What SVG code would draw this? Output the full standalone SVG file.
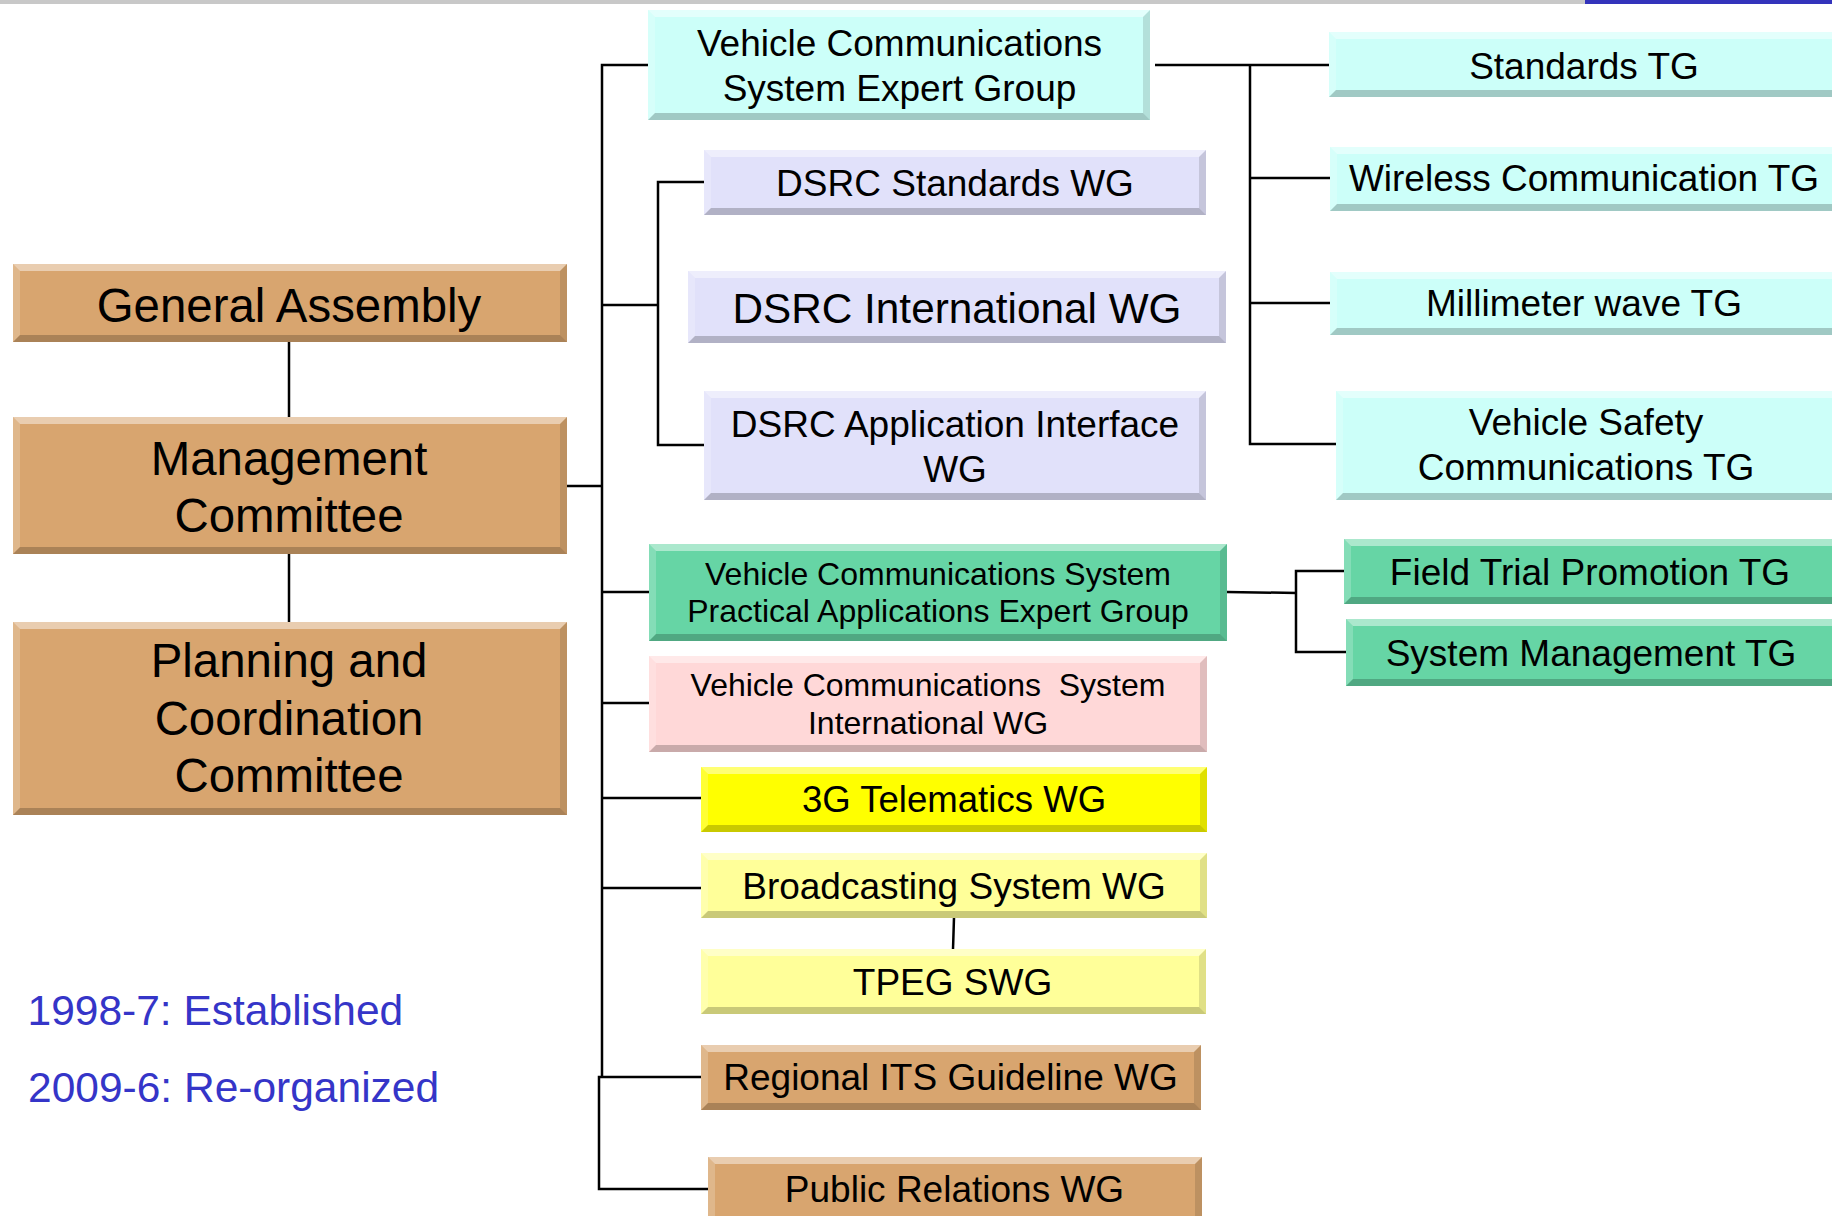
<svg xmlns="http://www.w3.org/2000/svg" width="1832" height="1216" viewBox="0 0 1832 1216">
<style>
.ln{stroke:#000;stroke-width:2.5;fill:none}
.t{font-family:"Liberation Sans",Arial,sans-serif;fill:#000;text-anchor:middle}
.note{font-family:"Liberation Sans",Arial,sans-serif;fill:#3535c8;font-size:42.5px}
.bt{fill:#fff;fill-opacity:.45}
.bl{fill:#fff;fill-opacity:.2}
.br{fill:#000;fill-opacity:.12}
.bb{fill:#000;fill-opacity:.21}
.tan{fill:#d8a56f}
.cyan{fill:#ccfff9}
.lav{fill:#e1e1fa}
.grn{fill:#66d5a5}
.pink{fill:#ffd8d8}
.yel{fill:#ffff00}
.lyel{fill:#ffff99}
</style>
<rect width="1832" height="1216" fill="#fff"/>
<rect x="0" y="0" width="1585" height="4" fill="#c8c8c8"/>
<rect x="1585" y="0" width="247" height="4" fill="#3333bb"/>

<g id="connectors">
<path class="ln" d="M289,342V417"/>
<path class="ln" d="M289,554V622"/>
<path class="ln" d="M567,486H602"/>
<path class="ln" d="M648,65H602V1077"/>
<path class="ln" d="M602,305H658"/>
<path class="ln" d="M704,182H658V445H704"/>
<path class="ln" d="M602,592H649"/>
<path class="ln" d="M602,703H649"/>
<path class="ln" d="M602,798H701"/>
<path class="ln" d="M602,888H701"/>
<path class="ln" d="M701,1077H599V1189H708"/>
<path class="ln" d="M1155,65H1329"/>
<path class="ln" d="M1250,64V444H1336"/>
<path class="ln" d="M1250,178H1330"/>
<path class="ln" d="M1250,303H1330"/>
<path class="ln" d="M1227,592L1297,593"/>
<path class="ln" d="M1344,571H1296V652H1346"/>
<path class="ln" d="M954,918L953,949"/>
</g>

<g id="general-assembly">
<g transform="translate(13,264)"><rect class="tan" width="554" height="78"/><path class="bt" d="M0,0H554l-7,7H7z"/><path class="bl" d="M0,0l7,7V71l-7,7z"/><path class="br" d="M554,0V78l-7,-7V7z"/><path class="bb" d="M0,78H554l-7,-7H7z"/></g>
<text class="t" x="289" y="322" font-size="47.4">General Assembly</text>
</g>

<g id="management-committee">
<g transform="translate(13,417)"><rect class="tan" width="554" height="137"/><path class="bt" d="M0,0H554l-7,7H7z"/><path class="bl" d="M0,0l7,7V130l-7,7z"/><path class="br" d="M554,0V137l-7,-7V7z"/><path class="bb" d="M0,137H554l-7,-7H7z"/></g>
<text class="t" font-size="47.4"><tspan x="289" y="475">Management</tspan><tspan x="289" y="532">Committee</tspan></text>
</g>

<g id="planning-coordination">
<g transform="translate(13,622)"><rect class="tan" width="554" height="193"/><path class="bt" d="M0,0H554l-7,7H7z"/><path class="bl" d="M0,0l7,7V186l-7,7z"/><path class="br" d="M554,0V193l-7,-7V7z"/><path class="bb" d="M0,193H554l-7,-7H7z"/></g>
<text class="t" font-size="47.4"><tspan x="289" y="677">Planning and</tspan><tspan x="289" y="735">Coordination</tspan><tspan x="289" y="792">Committee</tspan></text>
</g>

<g id="vcs-expert-group">
<g transform="translate(648,10)"><rect class="cyan" width="502" height="110"/><path class="bt" d="M0,0H502l-7,7H7z"/><path class="bl" d="M0,0l7,7V103l-7,7z"/><path class="br" d="M502,0V110l-7,-7V7z"/><path class="bb" d="M0,110H502l-7,-7H7z"/></g>
<text class="t" font-size="37"><tspan x="899.5" y="56">Vehicle Communications</tspan><tspan x="899.5" y="100.5">System Expert Group</tspan></text>
</g>

<g id="dsrc-standards-wg">
<g transform="translate(704,150)"><rect class="lav" width="502" height="65"/><path class="bt" d="M0,0H502l-7,7H7z"/><path class="bl" d="M0,0l7,7V58l-7,7z"/><path class="br" d="M502,0V65l-7,-7V7z"/><path class="bb" d="M0,65H502l-7,-7H7z"/></g>
<text class="t" x="955" y="195.5" font-size="37">DSRC Standards WG</text>
</g>

<g id="dsrc-international-wg">
<g transform="translate(688,271)"><rect class="lav" width="538" height="72"/><path class="bt" d="M0,0H538l-7,7H7z"/><path class="bl" d="M0,0l7,7V65l-7,7z"/><path class="br" d="M538,0V72l-7,-7V7z"/><path class="bb" d="M0,72H538l-7,-7H7z"/></g>
<text class="t" x="957" y="322.5" font-size="42.3">DSRC International WG</text>
</g>

<g id="dsrc-application-interface-wg">
<g transform="translate(704,391)"><rect class="lav" width="502" height="109"/><path class="bt" d="M0,0H502l-7,7H7z"/><path class="bl" d="M0,0l7,7V102l-7,7z"/><path class="br" d="M502,0V109l-7,-7V7z"/><path class="bb" d="M0,109H502l-7,-7H7z"/></g>
<text class="t" font-size="37"><tspan x="955" y="437">DSRC Application Interface</tspan><tspan x="955" y="482">WG</tspan></text>
</g>

<g id="standards-tg">
<g transform="translate(1329,32)"><rect class="cyan" width="520" height="65"/><path class="bt" d="M0,0H520l-7,7H7z"/><path class="bl" d="M0,0l7,7V58l-7,7z"/><path class="bb" d="M0,65H520l-7,-7H7z"/></g>
<text class="t" x="1584" y="78.5" font-size="37">Standards TG</text>
</g>

<g id="wireless-communication-tg">
<g transform="translate(1330,147)"><rect class="cyan" width="520" height="64"/><path class="bt" d="M0,0H520l-7,7H7z"/><path class="bl" d="M0,0l7,7V57l-7,7z"/><path class="bb" d="M0,64H520l-7,-7H7z"/></g>
<text class="t" x="1584" y="191" font-size="37">Wireless Communication TG</text>
</g>

<g id="millimeter-wave-tg">
<g transform="translate(1330,272)"><rect class="cyan" width="520" height="63"/><path class="bt" d="M0,0H520l-7,7H7z"/><path class="bl" d="M0,0l7,7V56l-7,7z"/><path class="bb" d="M0,63H520l-7,-7H7z"/></g>
<text class="t" x="1584" y="315.5" font-size="37">Millimeter wave TG</text>
</g>

<g id="vehicle-safety-communications-tg">
<g transform="translate(1336,391)"><rect class="cyan" width="514" height="109"/><path class="bt" d="M0,0H514l-7,7H7z"/><path class="bl" d="M0,0l7,7V102l-7,7z"/><path class="bb" d="M0,109H514l-7,-7H7z"/></g>
<text class="t" font-size="37"><tspan x="1586" y="435">Vehicle Safety</tspan><tspan x="1586" y="480">Communications TG</tspan></text>
</g>

<g id="vcs-practical-applications-expert-group">
<g transform="translate(649,544)"><rect class="grn" width="578" height="97"/><path class="bt" d="M0,0H578l-7,7H7z"/><path class="bl" d="M0,0l7,7V90l-7,7z"/><path class="br" d="M578,0V97l-7,-7V7z"/><path class="bb" d="M0,97H578l-7,-7H7z"/></g>
<text class="t" font-size="32"><tspan x="938" y="585">Vehicle Communications System</tspan><tspan x="938" y="622">Practical Applications Expert Group</tspan></text>
</g>

<g id="field-trial-promotion-tg">
<g transform="translate(1344,539)"><rect class="grn" width="506" height="65"/><path class="bt" d="M0,0H506l-7,7H7z"/><path class="bl" d="M0,0l7,7V58l-7,7z"/><path class="bb" d="M0,65H506l-7,-7H7z"/></g>
<text class="t" x="1590" y="585" font-size="37">Field Trial Promotion TG</text>
</g>

<g id="system-management-tg">
<g transform="translate(1346,619)"><rect class="grn" width="504" height="67"/><path class="bt" d="M0,0H504l-7,7H7z"/><path class="bl" d="M0,0l7,7V60l-7,7z"/><path class="bb" d="M0,67H504l-7,-7H7z"/></g>
<text class="t" x="1591" y="665.5" font-size="37">System Management TG</text>
</g>

<g id="vcs-international-wg">
<g transform="translate(649,656)"><rect class="pink" width="558" height="96"/><path class="bt" d="M0,0H558l-7,7H7z"/><path class="bl" d="M0,0l7,7V89l-7,7z"/><path class="br" d="M558,0V96l-7,-7V7z"/><path class="bb" d="M0,96H558l-7,-7H7z"/></g>
<text class="t" font-size="32" xml:space="preserve"><tspan x="928" y="696">Vehicle Communications  System</tspan><tspan x="928" y="733.5">International WG</tspan></text>
</g>

<g id="3g-telematics-wg">
<g transform="translate(701,767)"><rect class="yel" width="506" height="65"/><path class="bt" d="M0,0H506l-7,7H7z"/><path class="bl" d="M0,0l7,7V58l-7,7z"/><path class="br" d="M506,0V65l-7,-7V7z"/><path class="bb" d="M0,65H506l-7,-7H7z"/></g>
<text class="t" x="954" y="812" font-size="36.6">3G Telematics WG</text>
</g>

<g id="broadcasting-system-wg">
<g transform="translate(701,853)"><rect class="lyel" width="506" height="65"/><path class="bt" d="M0,0H506l-7,7H7z"/><path class="bl" d="M0,0l7,7V58l-7,7z"/><path class="br" d="M506,0V65l-7,-7V7z"/><path class="bb" d="M0,65H506l-7,-7H7z"/></g>
<text class="t" x="954" y="898.5" font-size="37">Broadcasting System WG</text>
</g>

<g id="tpeg-swg">
<g transform="translate(701,949)"><rect class="lyel" width="505" height="65"/><path class="bt" d="M0,0H505l-7,7H7z"/><path class="bl" d="M0,0l7,7V58l-7,7z"/><path class="br" d="M505,0V65l-7,-7V7z"/><path class="bb" d="M0,65H505l-7,-7H7z"/></g>
<text class="t" x="952.5" y="994.5" font-size="37">TPEG SWG</text>
</g>

<g id="regional-its-guideline-wg">
<g transform="translate(701,1045)"><rect class="tan" width="500" height="65"/><path class="bt" d="M0,0H500l-7,7H7z"/><path class="bl" d="M0,0l7,7V58l-7,7z"/><path class="br" d="M500,0V65l-7,-7V7z"/><path class="bb" d="M0,65H500l-7,-7H7z"/></g>
<text class="t" x="950.5" y="1090" font-size="37">Regional ITS Guideline WG</text>
</g>

<g id="public-relations-wg">
<g transform="translate(708,1157)"><rect class="tan" width="494" height="75"/><path class="bt" d="M0,0H494l-7,7H7z"/><path class="bl" d="M0,0l7,7V68l-7,7z"/><path class="br" d="M494,0V75l-7,-7V7z"/></g>
<text class="t" x="954.5" y="1202" font-size="37">Public Relations WG</text>
</g>

<g id="notes">
<text class="note" x="27.5" y="1025">1998-7: Established</text>
<text class="note" x="28" y="1101.5">2009-6: Re-organized</text>
</g>
</svg>
